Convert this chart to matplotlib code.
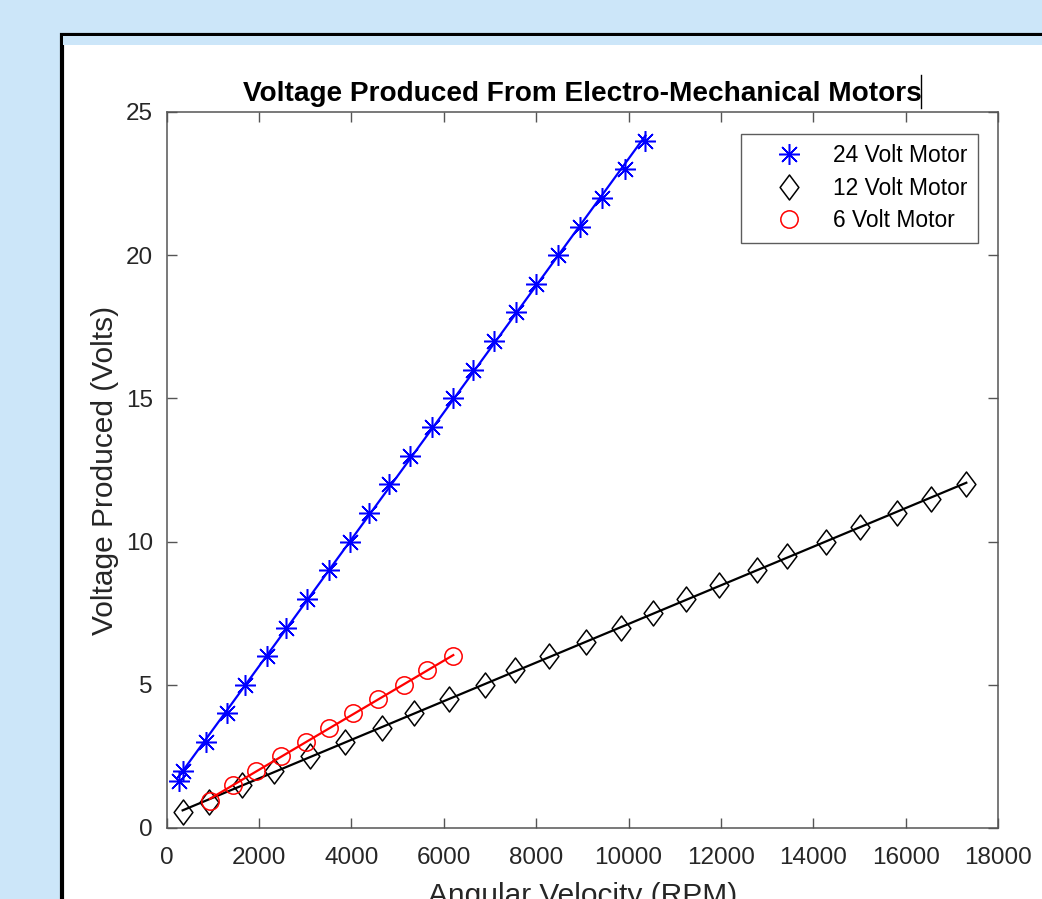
import numpy as np
import matplotlib.pyplot as plt
from matplotlib.patches import Rectangle
from matplotlib.lines import Line2D
from matplotlib.path import Path

plt.rcParams['font.family'] = ['Liberation Sans', 'DejaVu Sans']

# 24 volt motor
rpm_24 = [267, 360, 849, 1310, 1691, 2173, 2592, 3045, 3505, 3959, 4376, 4808,
          5276, 5745, 6190, 6622, 7091, 7559, 7991, 8480, 8948, 9417, 9913, 10367]
volt_24 = [1.65, 2, 3, 4, 5, 6, 7, 8, 9, 10, 11, 12,
           13, 14, 15, 16, 17, 18, 19, 20, 21, 22, 23, 24]

# 12 volt motor
rpm_12 = [345, 913, 1641, 2324, 3095, 3866, 4657, 5348, 6104, 6896, 7538, 8279,
          9071, 9827, 10525, 11244, 11965, 12778, 13426, 14268, 15011, 15823,
          16558, 17314]
volt_12 = [0.57, 0.9, 1.5, 2, 2.5, 3, 3.5, 4, 4.5, 5, 5.5, 6,
           6.5, 7, 7.5, 8, 8.5, 9, 9.5, 10, 10.5, 11, 11.5, 12]

# 6 volt motor
rpm_6 = [935, 1425, 1929, 2484, 3024, 3505, 4030, 4585, 5132, 5637, 6205]
volt_6 = [0.95, 1.5, 2, 2.5, 3, 3.5, 4, 4.5, 5, 5.5, 6]

W, H = 1042, 899
fig = plt.figure(figsize=(W / 100, H / 100), dpi=100)
fig.patch.set_facecolor('#cce6f9')

# white slide panel with black border, running off the right/bottom edges
fig.add_artist(Rectangle((61.5 / W, -0.1), 1.2, 1.1 - 34.5 / H,
                         transform=fig.transFigure, facecolor='white',
                         edgecolor='black', linewidth=3, zorder=0))
fig.add_artist(Rectangle((63 / W, 1 - 45 / H), 1.0, 9 / H,
                         transform=fig.transFigure, facecolor='#cce6f9',
                         edgecolor='none', zorder=0.5))

ax = fig.add_axes([166.7 / W, 1 - 828 / H, (998 - 166.7) / W, (828 - 112) / H])

# matlab style markers: 8-spoke asterisk and a wide diamond
asterisk = (8, 2, 0)
diamond = Path([(0, 1), (0.75, 0), (0, -1), (-0.75, 0), (0, 1)],
               [Path.MOVETO, Path.LINETO, Path.LINETO, Path.LINETO, Path.CLOSEPOLY])

series = [
    (rpm_24, volt_24, 'blue', asterisk, '24 Volt Motor', 15),
    (rpm_12, volt_12, 'black', diamond, '12 Volt Motor', 18),
    (rpm_6, volt_6, 'red', 'o', '6 Volt Motor', 12.5),
]
for x, y, c, m, lab, ms in series:
    x = np.array(x)
    y = np.array(y)
    ax.plot(x, y, linestyle='none', marker=m, markersize=ms, color=c,
            markerfacecolor='none', markeredgecolor=c, markeredgewidth=1.1,
            label=lab)
    # linear fit line like the original
    p = np.polyfit(x, y, 1)
    xs = np.array([x.min(), x.max()])
    ax.plot(xs, np.polyval(p, xs), color=c, linewidth=1.6, label='_nolegend_')

ax.set_xlim(0, 18000)
ax.set_ylim(0, 25)
ax.set_xticks(np.arange(0, 18001, 2000))
ax.set_yticks(np.arange(0, 26, 5))
ax.tick_params(direction='in', top=True, right=True, length=7, width=1,
               color='#555555', labelsize=17.5, labelcolor='#262626')
ax.tick_params(axis='y', pad=10)
ax.tick_params(axis='x', pad=14)
for s in ax.spines.values():
    s.set_color('#555555')
    s.set_linewidth(1.1)

ax.set_title('Voltage Produced From Electro-Mechanical Motors',
             fontsize=20.2, fontweight='bold', pad=8)
ax.set_ylabel('Voltage Produced (Volts)', fontsize=21.5, color='#262626',
              labelpad=5)
ax.set_xlabel('Angular Velocity (RPM)', fontsize=21.5, color='#262626',
              labelpad=9)

leg = ax.legend(loc='upper right', bbox_to_anchor=(978 / W, 1 - 134 / H),
                bbox_transform=fig.transFigure, fontsize=16.4, frameon=True,
                fancybox=False, edgecolor='#333333', borderaxespad=0,
                handlelength=3.3, handletextpad=0.3, labelspacing=0.42,
                borderpad=0.45)
leg.get_frame().set_linewidth(1.0)

# text cursor left after the title
fig.add_artist(Line2D([921 / W, 921 / W], [1 - 108 / H, 1 - 75 / H],
                      transform=fig.transFigure, color='black', linewidth=1))

fig.savefig('out.png', dpi=100, facecolor=fig.get_facecolor())
